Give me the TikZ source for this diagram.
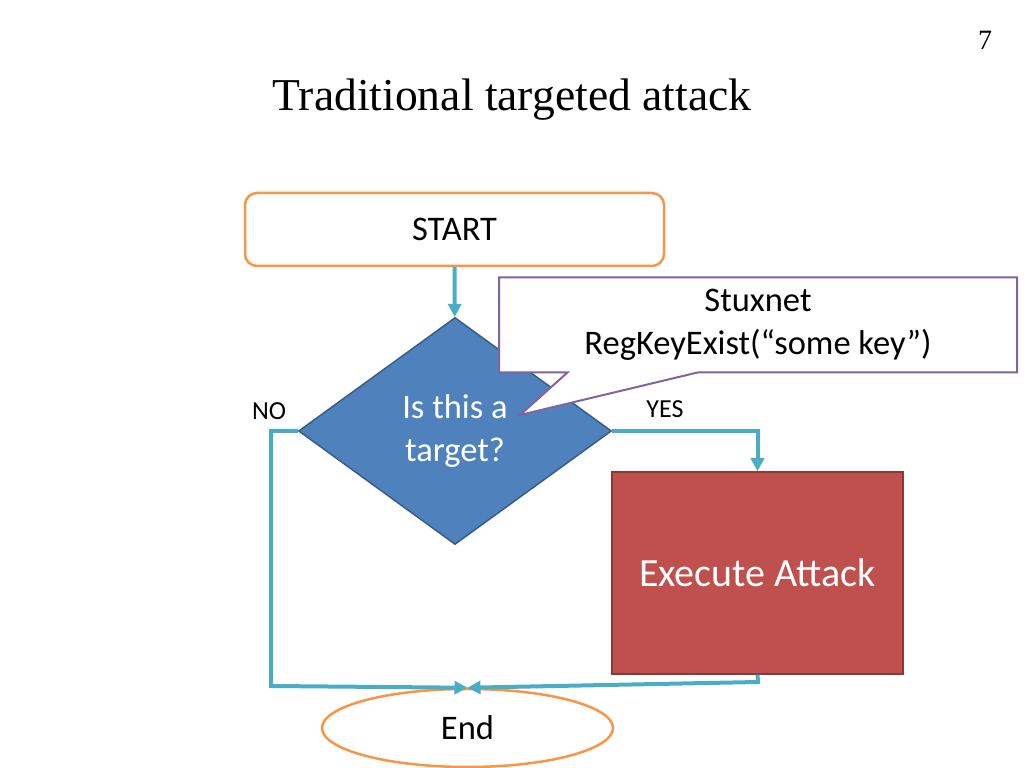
\documentclass[tikz,border=0pt]{standalone}
\usepackage{fontspec}
\setmainfont{Liberation Serif}
\newfontfamily\slidefont{Carlito}
\usetikzlibrary{arrows.meta,shapes.geometric,shapes.callouts}
\definecolor{flowteal}{HTML}{4BACC6}
\definecolor{termorange}{HTML}{F79646}
\definecolor{notepurple}{HTML}{8064A2}
\definecolor{qblue}{HTML}{4F81BD}
\definecolor{qblueline}{HTML}{385D8A}
\definecolor{actred}{HTML}{C0504D}
\definecolor{actredline}{HTML}{8C3836}
\tikzset{
  slidetext/.style={font=\slidefont\fontsize{34.5bp}{43bp}\selectfont, align=center},
  terminal/.style={slidetext, draw=termorange, line width=2.5bp, fill=white},
  decision/.style={slidetext, diamond, fill=qblue, draw=qblueline,
    line width=1.5bp, text=white, aspect=1.38, inner sep=0pt},
  action/.style={draw=actredline, line width=1.5bp, fill=actred, text=white,
    font=\slidefont\fontsize{40bp}{46bp}\selectfont},
  note/.style={slidetext, rectangle callout, draw=notepurple, line width=2bp,
    fill=white, callout pointer width=130bp},
  flow/.style={draw=flowteal, line width=4bp,
    -{Triangle[length=13bp,width=13bp]}},
  branchlabel/.style={font=\slidefont\fontsize{26bp}{30bp}\selectfont}
}

\begin{document}
\begin{tikzpicture}[x=1bp,y=1bp]

  \path[use as bounding box] (0,0) rectangle (1024,768);

  % heading
  \node (pagenum) at (985,728) {\fontsize{28bp}{32bp}\selectfont 7};
  \node (heading) at (512,668) {\fontsize{45.6bp}{52bp}\selectfont Traditional targeted attack};

  % boxes
  \node[terminal, rounded corners=12bp, minimum width=419bp, minimum height=73bp]
    (start) at (454.5,538.5) {START};
  \node[decision, minimum width=313bp, minimum height=227bp]
    (q) at (455,337) {Is this a\\target?};
  \node[action, minimum width=291bp, minimum height=202bp]
    (attack) at (757.5,195) {Execute Attack};
  \node[terminal, ellipse, minimum width=291bp, minimum height=78bp]
    (end) at (467.5,40) {End};

  % branch labels
  \node[branchlabel] (nolabel) at (269,357) {NO};
  \node[branchlabel] (yeslabel) at (665,359) {YES};

  % connectors
  \coordinate (nocorner) at (271,82);
  \coordinate (yescorner) at (758,86);
  \draw[flow] (start) -- (q);
  \draw[flow] (q.east) -| (attack.north);
  \draw[flow] (q.west) -| (nocorner) -- (end.north);
  \draw[flow] (attack.south) -- (yescorner) -- (end.north);

  % callout
  \coordinate (tip) at (520,353);
  \node[note, minimum width=518bp, minimum height=95bp,
        callout absolute pointer={(tip)}]
    (stuxnet) at (758,443) {Stuxnet\\RegKeyExist(“some key”)};

\end{tikzpicture}
\end{document}
